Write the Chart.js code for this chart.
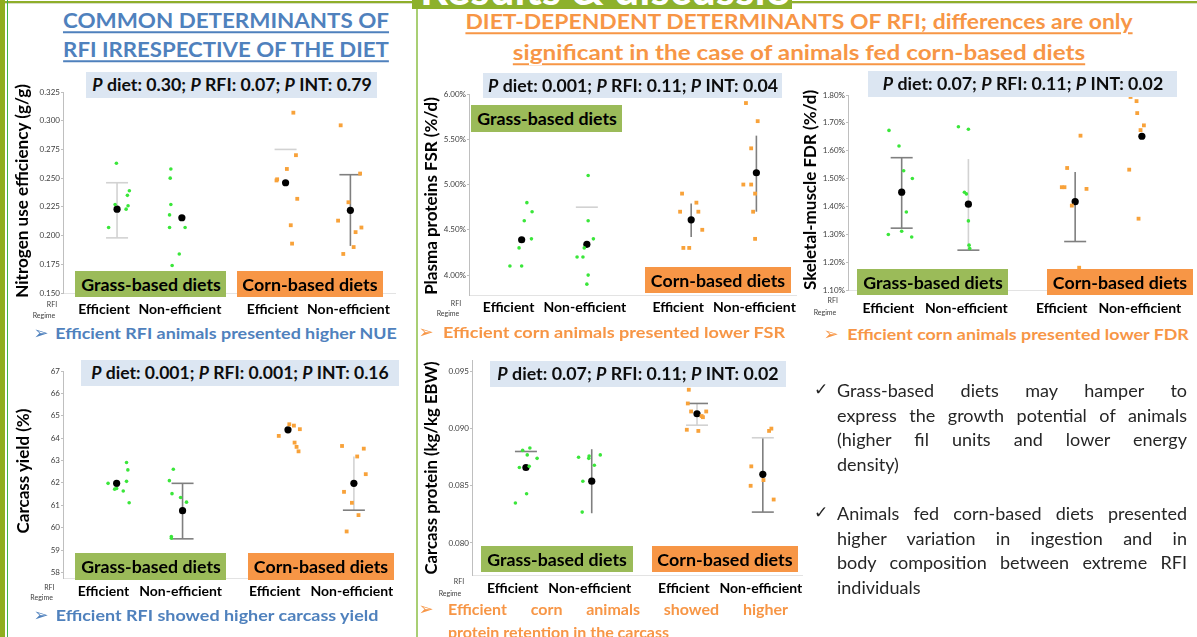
<!DOCTYPE html>
<html><head><meta charset="utf-8">
<script src="https://cdn.jsdelivr.net/npm/chart.js@4.4.1/dist/chart.umd.min.js"></script>
<style>
html,body{margin:0;padding:0;background:#fff;width:1197px;height:637px;overflow:hidden;font-family:Lato,"Open Sans",sans-serif;}
#root{position:relative;width:1197px;height:637px;overflow:hidden;background:#fff;}
.t{position:absolute;white-space:nowrap;line-height:1;}
canvas{position:absolute;}
</style></head><body><div id="root"></div>
<script>
// ---------- shared categories ----------
const groupLabels = ['Efficient', 'Non-efficient', 'Efficient', 'Non-efficient'];
const groupPos = [1, 2, 3.6, 4.6];

// ---------- Nitrogen use efficiency ----------
const nueTicks = [0.150, 0.175, 0.200, 0.225, 0.250, 0.275, 0.300, 0.325];
const nueGrassX = [0.99, 0.97, 1.16, 1.19, 1.17, 1.14, 0.87, 1.83, 1.82, 1.83, 1.81, 1.81, 2.05, 1.96, 1.85];
const nueGrassY = [0.263, 0.227, 0.235, 0.239, 0.226, 0.223, 0.207, 0.258, 0.250, 0.227, 0.218, 0.207, 0.207, 0.184, 0.174];
const nueCornX = [3.72, 3.76, 3.62, 3.46, 3.47, 3.78, 3.68, 3.70, 4.45, 4.75, 4.57, 4.41, 4.77, 4.68, 4.65, 4.49];
const nueCornY = [0.307, 0.270, 0.258, 0.248, 0.249, 0.232, 0.209, 0.193, 0.296, 0.254, 0.229, 0.213, 0.207, 0.203, 0.190, 0.184];
const nueMean = [0.223, 0.2155, 0.246, 0.222];
const nueErrHi = [0.246, null, 0.275, 0.253];
const nueErrLo = [0.198, null, null, 0.191];

// ---------- Plasma proteins FSR ----------
const fsrTicks = [4.0, 4.5, 5.0, 5.5, 6.0];
const fsrGrassX = [1.08, 1.16, 1.04, 1.15, 0.96, 0.82, 1.00, 2.02, 2.02, 2.10, 1.96, 1.85, 1.94, 2.02, 2.00];
const fsrGrassY = [4.80, 4.70, 4.60, 4.40, 4.30, 4.10, 4.10, 5.10, 4.60, 4.40, 4.30, 4.20, 4.20, 4.00, 3.90];
const fsrCornX = [3.46, 3.68, 3.43, 3.71, 3.77, 3.48, 3.57, 4.44, 4.62, 4.52, 4.40, 4.52, 4.58, 4.55, 4.58];
const fsrCornY = [4.90, 4.80, 4.70, 4.70, 4.50, 4.30, 4.30, 5.90, 5.70, 5.40, 5.00, 5.00, 4.90, 4.70, 4.40];
const fsrMean = [4.39, 4.34, 4.61, 5.13];
const fsrErrHi = [null, 4.75, 4.79, 5.54];
const fsrErrLo = [null, null, 4.42, 4.70];

// ---------- Skeletal-muscle FDR ----------
const fdrTicks = [1.1, 1.2, 1.3, 1.4, 1.5, 1.6, 1.7, 1.8];
const fdrGrassX = [0.81, 0.96, 1.03, 1.16, 1.07, 0.80, 1.00, 1.15, 1.85, 2.00, 1.94, 1.97, 2.00, 2.01, 2.02];
const fdrGrassY = [1.673, 1.617, 1.528, 1.500, 1.380, 1.299, 1.311, 1.290, 1.686, 1.677, 1.451, 1.445, 1.348, 1.261, 1.249];
const fdrCornX = [3.68, 3.48, 3.40, 3.44, 3.77, 3.55, 3.66, 4.43, 4.52, 4.53, 4.63, 4.58, 4.41, 4.55];
const fdrCornY = [1.654, 1.538, 1.469, 1.469, 1.463, 1.403, 1.180, 1.793, 1.778, 1.735, 1.691, 1.674, 1.532, 1.356];
const fdrMean = [1.451, 1.408, 1.417, 1.652];
const fdrErrHi = [1.575, 1.570, 1.524, null];
const fdrErrLo = [1.322, 1.243, 1.274, null];

// ---------- Carcass yield ----------
const yldTicks = [58, 59, 60, 61, 62, 63, 64, 65, 66, 67];
const yldGrassX = [0.87, 0.97, 1.00, 1.10, 1.15, 1.17, 1.15, 1.19, 1.86, 1.80, 1.84, 1.97, 2.06, 1.83, 1.83];
const yldGrassY = [61.98, 61.72, 61.75, 61.64, 62.91, 62.58, 62.07, 61.11, 62.61, 62.10, 61.52, 61.35, 61.14, 59.60, 59.53];
const yldCornX = [3.46, 3.62, 3.69, 3.78, 3.70, 3.73, 3.76, 4.42, 4.75, 4.65, 4.78, 4.45, 4.57, 4.67, 4.49];
const yldCornY = [64.10, 64.62, 64.56, 64.40, 63.80, 63.61, 63.41, 63.65, 63.53, 63.18, 62.39, 61.60, 61.11, 60.56, 59.83];
const yldMean = [61.98, 60.76, 64.37, 61.98];
const yldErrHi = [null, 61.98, null, 63.18];
const yldErrLo = [null, 59.50, null, 60.78];

// ---------- Carcass protein ----------
const prtTicks = [0.080, 0.085, 0.090, 0.095];
const prtGrassX = [0.95, 1.06, 1.02, 1.17, 0.90, 1.05, 1.01, 0.84, 1.80, 1.96, 1.955, 2.13, 2.04, 1.865, 1.855];
const prtGrassY = [0.0881, 0.0883, 0.0877, 0.0874, 0.0866, 0.0867, 0.0843, 0.0835, 0.0875, 0.0876, 0.0874, 0.0877, 0.0868, 0.0854, 0.0827];
const prtCornX = [3.475, 3.46, 3.51, 3.74, 3.67, 3.69, 3.445, 3.62, 4.73, 4.695, 4.425, 4.415, 4.61, 4.765];
const prtCornY = [0.0934, 0.0922, 0.0915, 0.0915, 0.0911, 0.0910, 0.0899, 0.0898, 0.0900, 0.0898, 0.0867, 0.0850, 0.0855, 0.0838];
const prtMean = [0.0866, 0.0854, 0.0913, 0.0860];
const prtErrHi = [0.0880, 0.0882, 0.0922, 0.0892];
const prtErrLo = [null, 0.0826, 0.0903, 0.0827];

// ---------- styles ----------
const FONT = 'Lato, "Open Sans", sans-serif';
const BLUE = '#4f81bd', ORANGE = '#f79646', GRASSBOX = '#9bbb59', PBOX = '#dce6f2';
const L = '#d2d2d2', D = '#7f7f7f';
const labelShift = [-0.2, -0.03, -0.2, -0.03];   // category label offset from the group centre (axis units)
const root = document.getElementById('root');

function el(tag, css) { const d = document.createElement(tag); Object.assign(d.style, css); root.appendChild(d); return d; }
function txt(html, cx, cy, o) {
  o = o || {};
  const d = document.createElement('div');
  d.className = 't';
  d.innerHTML = html;
  Object.assign(d.style, {fontSize: (o.size || 14) + 'px', fontWeight: o.weight || 400, color: o.color || '#000',
    fontFamily: o.family || FONT, textDecoration: o.underline ? 'underline' : 'none',
    textDecorationThickness: o.underline ? '2px' : '', textUnderlineOffset: o.underline ? '3px' : ''});
  root.appendChild(d);
  const w = d.offsetWidth;
  const k = o.w ? o.w / w : 1;
  d.style.left = cx + 'px'; d.style.top = cy + 'px';
  d.style.transform = 'translate(-50%,-50%)' + (o.rot ? ' rotate(-90deg)' : '') + ' scaleX(' + k + ')';
  return d;
}
function line(html, left, cy, width, o) {
  const d = document.createElement('div');
  d.className = 't';
  d.innerHTML = html;
  Object.assign(d.style, {fontSize: o.size + 'px', fontWeight: o.weight || 400, color: o.color, fontFamily: FONT});
  root.appendChild(d);
  const w = d.offsetWidth;
  d.style.left = left + 'px';
  d.style.top = (cy - d.offsetHeight / 2) + 'px';
  if (o.justify && w < width) {
    d.style.whiteSpace = 'normal'; d.style.width = width + 'px';
    d.style.textAlign = 'justify'; d.style.textAlignLast = 'justify';
  } else if (w > width) {
    d.style.transformOrigin = '0 50%'; d.style.transform = 'scaleX(' + (width / w) + ')';
  }
  return d;
}

// ---------- poster frame ----------
el('div', {position: 'absolute', left: '0', top: '1px', width: '1197px', height: '2px', background: '#8fae2a'});
el('div', {position: 'absolute', left: '0', top: '3px', width: '1197px', height: '1px', background: '#d8dfc8'});
el('div', {position: 'absolute', left: '0', top: '0', width: '5px', height: '637px', background: '#8fae1f'});
el('div', {position: 'absolute', left: '7px', top: '0', width: '1px', height: '637px', background: '#3cb44b'});
el('div', {position: 'absolute', left: '416px', top: '8px', width: '2px', height: '629px', background: '#a9cf74'});
const banner = el('div', {position: 'absolute', left: '412px', top: '0', width: '380px', height: '9px', background: '#8db12c', overflow: 'hidden'});
const bt = document.createElement('div');
bt.textContent = 'Results & discussion';
Object.assign(bt.style, {position: 'absolute', left: '8px', top: '-34px', fontSize: '44px', lineHeight: '44px', fontWeight: 700, color: '#fff', whiteSpace: 'nowrap', fontFamily: FONT});
banner.appendChild(bt);

// ---------- headings ----------
txt('COMMON DETERMINANTS OF', 226, 20.5, {size: 21.5, weight: 700, color: BLUE, w: 326, underline: true});
txt('RFI IRRESPECTIVE OF THE DIET', 226, 49.5, {size: 21.5, weight: 700, color: BLUE, w: 326, underline: true});
txt('DIET-DEPENDENT DETERMINANTS OF RFI; differences are only', 798.5, 22, {size: 21.5, weight: 700, color: ORANGE, w: 667, underline: true});
txt('significant in the case of animals fed corn-based diets', 799, 52.5, {size: 21.5, weight: 700, color: ORANGE, w: 572, underline: true});

// ---------- error bar plugin (drawn through the scales) ----------
const errPlugin = {
  id: 'errbars',
  beforeDatasetsDraw(chart, args, opts) {
    if (!opts || !opts.hi) return;
    const ctx = chart.ctx, xs = chart.scales.x, ys = chart.scales.y;
    ctx.save(); ctx.lineWidth = 1.6;
    opts.hi.forEach((hi, i) => {
      const st = opts.style[i]; if (!st) return;
      const lo = opts.lo[i];
      const x = xs.getPixelForValue(groupPos[i]);
      const seg = (x1, y1, x2, y2, c) => { ctx.strokeStyle = c; ctx.beginPath(); ctx.moveTo(x1, y1); ctx.lineTo(x2, y2); ctx.stroke(); };
      if (st.line && hi != null && lo != null) seg(x, ys.getPixelForValue(hi), x, ys.getPixelForValue(lo), st.line);
      if (st.hi && hi != null) { const y = ys.getPixelForValue(hi); seg(x - 11, y, x + 11, y, st.hi); }
      if (st.lo && lo != null) { const y = ys.getPixelForValue(lo); seg(x - 11, y, x + 11, y, st.lo); }
    });
    ctx.restore();
  }
};

function makeChart(c) {
  const yw = 40, padTop = 8, xh = 30;
  const xmin = 1 - (c.xAt1 - c.axisX) / c.pxu;
  const xmax = xmin + (c.rightPx - c.axisX) / c.pxu;
  const W = Math.round(yw + (c.rightPx - c.axisX));
  const H = Math.round(padTop + (c.yBotPx - c.yTopPx) + xh);
  const cv = document.createElement('canvas');
  cv.width = W; cv.height = H;
  cv.style.left = (c.axisX - yw) + 'px'; cv.style.top = (c.yTopPx - padTop) + 'px';
  cv.style.width = W + 'px'; cv.style.height = H + 'px';
  root.appendChild(cv);
  const xfont = 14;
  new Chart(cv, {
    type: 'scatter',
    data: {datasets: [
      {data: c.gx.map((x, i) => ({x, y: c.gy[i]})), backgroundColor: '#3ae63a', borderWidth: 0, pointRadius: 1.8, pointStyle: 'circle'},
      {data: c.cx.map((x, i) => ({x, y: c.cy[i]})), backgroundColor: '#f8a23a', borderWidth: 0, pointRadius: 2.7, pointStyle: 'rect'},
      {data: c.mean.map((y, i) => ({x: groupPos[i], y})), backgroundColor: '#000', borderWidth: 0, pointRadius: 3.6, pointStyle: 'circle'}
    ]},
    options: {
      responsive: false, animation: false, devicePixelRatio: 1, events: [],
      layout: {padding: {top: padTop, left: 0, right: 0, bottom: 0}},
      plugins: {legend: {display: false}, tooltip: {enabled: false}, errbars: {hi: c.hi, lo: c.lo, style: c.style}},
      scales: {
        x: {type: 'linear', min: xmin, max: xmax,
          afterBuildTicks: s => { s.ticks = groupPos.map((v, i) => ({value: v + labelShift[i]})); },
          ticks: {callback: (v, i) => groupLabels[i], autoSkip: false, maxRotation: 0, color: '#000',
            font: {family: FONT, size: xfont, weight: 'bold'}, padding: c.labelY - c.yBotPx - xfont * 0.6},
          grid: {display: false, drawTicks: false}, border: {display: true, color: '#e3e3e3'},
          afterFit: s => { s.height = xh; s.paddingLeft = 0; s.paddingRight = 0; }},
        y: {type: 'linear', min: c.ymin, max: c.ymax,
          afterBuildTicks: s => { s.ticks = c.ticks.map(v => ({value: v})); },
          ticks: {callback: v => c.fmt(v), autoSkip: false, color: '#404040', font: {family: FONT, size: 8}, padding: 1},
          grid: {display: true, drawOnChartArea: false, drawTicks: true, tickLength: 2, color: '#bfbfbf'},
          border: {display: true, color: '#bfbfbf'},
          afterFit: s => { s.width = yw; s.paddingTop = 0; s.paddingBottom = 0; }}
      }
    },
    plugins: [errPlugin]
  });
}

makeChart({axisX: 63, yTopPx: 92, yBotPx: 293, ymin: 0.150, ymax: 0.325, xAt1: 117.7, pxu: 65.6, rightPx: 399, labelY: 309,
  ticks: nueTicks, fmt: v => v.toFixed(3), gx: nueGrassX, gy: nueGrassY, cx: nueCornX, cy: nueCornY, mean: nueMean, hi: nueErrHi, lo: nueErrLo,
  style: [{line: L, hi: L, lo: L}, null, {hi: L}, {line: D, hi: D}]});
makeChart({axisX: 469, yTopPx: 94.3, yBotPx: 295.7, ymin: 3.78, ymax: 6.0, xAt1: 522.3, pxu: 66, rightPx: 800, labelY: 308,
  ticks: fsrTicks, fmt: v => v.toFixed(2) + '%', gx: fsrGrassX, gy: fsrGrassY, cx: fsrCornX, cy: fsrCornY, mean: fsrMean, hi: fsrErrHi, lo: fsrErrLo,
  style: [null, {hi: L}, {line: D}, {line: D}]});
makeChart({axisX: 848, yTopPx: 95, yBotPx: 290, ymin: 1.10, ymax: 1.80, xAt1: 902.3, pxu: 67.5, rightPx: 1196, labelY: 308,
  ticks: fdrTicks, fmt: v => v.toFixed(2) + '%', gx: fdrGrassX, gy: fdrGrassY, cx: fdrCornX, cy: fdrCornY, mean: fdrMean, hi: fdrErrHi, lo: fdrErrLo,
  style: [{line: D, hi: D, lo: D}, {line: L, lo: D}, {line: D, lo: D}, null]});
makeChart({axisX: 63, yTopPx: 371, yBotPx: 578.3, ymin: 57.75, ymax: 67, xAt1: 117.3, pxu: 66.7, rightPx: 397, labelY: 591.7,
  ticks: yldTicks, fmt: v => String(v), gx: yldGrassX, gy: yldGrassY, cx: yldCornX, cy: yldCornY, mean: yldMean, hi: yldErrHi, lo: yldErrLo,
  style: [null, {line: D, hi: D, lo: D}, null, {line: L, lo: D}]});
makeChart({axisX: 471.5, yTopPx: 359.6, yBotPx: 574.7, ymin: 0.0772, ymax: 0.096, xAt1: 526, pxu: 66.5, rightPx: 805, labelY: 588,
  ticks: prtTicks, fmt: v => v.toFixed(3), gx: prtGrassX, gy: prtGrassY, cx: prtCornX, cy: prtCornY, mean: prtMean, hi: prtErrHi, lo: prtErrLo,
  style: [{hi: D}, {line: D}, {line: L, hi: D, lo: L}, {line: D, hi: L, lo: D}]});

// ---------- y axis titles ----------
const yt = {size: 17.5, weight: 700, color: '#000', rot: true};
txt('Nitrogen use efficiency (g/g)', 22, 190.5, Object.assign({w: 214}, yt));
txt('Plasma proteins FSR (%/d)', 430.5, 196, Object.assign({w: 198}, yt));
txt('Skeletal-muscle FDR (%/d)', 810, 190, Object.assign({w: 200}, yt));
txt('Carcass yield (%)', 23, 471, Object.assign({w: 125}, yt));
txt('Carcass protein (kg/kg EBW)', 431, 468, Object.assign({w: 213}, yt));

// ---------- RFI Regime labels ----------
[[52, 304, 44, 315], [456, 302.7, 448, 313.3], [832.7, 300, 825, 312], [49.3, 586.7, 41.7, 597.3], [459, 580.7, 450, 593.3]].forEach(p => {
  txt('RFI', p[0], p[1], {size: 7, color: '#404040'});
  txt('Regime', p[2], p[3], {size: 7, color: '#404040'});
});

// ---------- P value boxes ----------
function pbox(l, t, r, b, s, tw) {
  el('div', {position: 'absolute', left: l + 'px', top: t + 'px', width: (r - l) + 'px', height: (b - t) + 'px', background: PBOX});
  txt(s, (l + r) / 2, (t + b) / 2, {size: 16.5, weight: 700, color: '#0d0d0d', w: tw});
}
pbox(86, 72, 377, 98, '<i>P</i> diet: 0.30; <i>P</i> RFI: 0.07; <i>P</i> INT: 0.79', 279);
pbox(483, 73, 782, 98, '<i>P</i> diet: 0.001; <i>P</i> RFI: 0.11; <i>P</i> INT: 0.04', 290);
pbox(868, 71, 1177, 97, '<i>P</i> diet: 0.07; <i>P</i> RFI: 0.11; <i>P</i> INT: 0.02', 280);
pbox(81, 360, 399, 386, '<i>P</i> diet: 0.001; <i>P</i> RFI: 0.001; <i>P</i> INT: 0.16', 298);
pbox(490, 361, 786, 387, '<i>P</i> diet: 0.07; <i>P</i> RFI: 0.11; <i>P</i> INT: 0.02', 281);

// ---------- diet boxes ----------
function dbox(l, t, r, b, s, bg, tw) {
  el('div', {position: 'absolute', left: l + 'px', top: t + 'px', width: (r - l) + 'px', height: (b - t) + 'px', background: bg});
  txt(s, (l + r) / 2, (t + b) / 2 + 0.5, {size: 17.5, weight: 700, color: '#000', w: tw});
}
dbox(75, 271, 226, 297, 'Grass-based diets', GRASSBOX, 140); dbox(237, 271, 383, 297, 'Corn-based diets', ORANGE, 135);
dbox(471, 105, 622, 132, 'Grass-based diets', GRASSBOX, 140); dbox(645, 267, 791, 293, 'Corn-based diets', ORANGE, 134);
dbox(857, 269, 1008, 295, 'Grass-based diets', GRASSBOX, 140); dbox(1047, 269, 1193, 295, 'Corn-based diets', ORANGE, 134);
dbox(75, 553, 226, 580, 'Grass-based diets', GRASSBOX, 140); dbox(248, 553, 394, 580, 'Corn-based diets', ORANGE, 134);
dbox(481, 546, 633, 572, 'Grass-based diets', GRASSBOX, 140); dbox(652, 546, 798, 572, 'Corn-based diets', ORANGE, 135);

// ---------- findings ----------
const arrow = (x, y, c) => txt('&#10146;', x, y, {size: 18, color: c, family: '"DejaVu Sans", sans-serif'});
arrow(41, 333, BLUE); txt('Efficient RFI animals presented higher NUE', 226, 333, {size: 16, weight: 700, color: BLUE, w: 342});
arrow(426, 332, ORANGE); txt('Efficient corn animals presented lower FSR', 614, 332, {size: 16, weight: 700, color: ORANGE, w: 342});
arrow(831, 334, ORANGE); txt('Efficient corn animals presented lower FDR', 1018, 334, {size: 16, weight: 700, color: ORANGE, w: 342});
arrow(41, 615, BLUE); txt('Efficient RFI showed higher carcass yield', 216.5, 615, {size: 16, weight: 700, color: BLUE, w: 323});
arrow(426, 609, ORANGE);
line('Efficient corn animals showed higher', 448, 609, 340, {size: 16, weight: 700, color: ORANGE, justify: true});
line('protein retention in the carcass', 448, 632, 250, {size: 16, weight: 700, color: ORANGE});

// ---------- conclusions ----------
const tc = {size: 18, color: '#262626'};
txt('&#10003;', 821, 389, {size: 17, color: '#262626', family: '"DejaVu Sans", sans-serif'});
line('Grass-based diets may hamper to', 837, 390, 350, Object.assign({justify: true}, tc));
line('express the growth potential of animals', 837, 414.7, 350, Object.assign({justify: true}, tc));
line('(higher fil units and lower energy', 837, 439.3, 350, Object.assign({justify: true}, tc));
line('density)', 837, 464, 350, tc);
txt('&#10003;', 821, 512, {size: 17, color: '#262626', family: '"DejaVu Sans", sans-serif'});
line('Animals fed corn-based diets presented', 837, 513, 350, Object.assign({justify: true}, tc));
line('higher variation in ingestion and in', 837, 537.7, 350, Object.assign({justify: true}, tc));
line('body composition between extreme RFI', 837, 562.3, 350, Object.assign({justify: true}, tc));
line('individuals', 837, 587, 350, tc);
</script>
</body></html>
